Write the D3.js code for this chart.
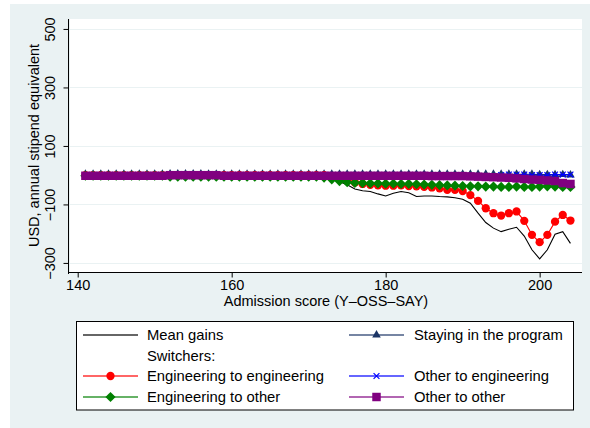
<!DOCTYPE html>
<html>
<head>
<meta charset="utf-8">
<script src="https://cdn.jsdelivr.net/npm/d3@7/dist/d3.min.js"></script>
<style>
    body { margin: 0; background: #fff; }
    text { font-family: "Liberation Sans", Arial, sans-serif; fill: #000; }
</style>
</head>
<body>
<svg id="chart" width="590" height="428"></svg>
<script>
// Data (admission score vs. USD gain)

const scores = [141, 142, 143, 144, 145, 146, 147, 148, 149, 150,
    151, 152, 153, 154, 155, 156, 157, 158, 159, 160,
    161, 162, 163, 164, 165, 166, 167, 168, 169, 170,
    171, 172, 173, 174, 175, 176, 177, 178, 179, 180,
    181, 182, 183, 184, 185, 186, 187, 188, 189, 190,
    191, 192, 193, 194, 195, 196, 197, 198, 199, 200,
    201, 202, 203, 204];

const meanGains = [0, 0, 0, 0, 0, 0, 0, 0, 0, 0,
    0, 0, 0, 0, 0, 0, 0, 0, 0, 0,
    0, 0, 0, 0, 0, 0, 0, 0, 0, 0,
    -2, -5, -12, -22, -33, -47, -53, -56, -64, -71,
    -62, -56, -60, -73, -71, -71, -73, -74, -77, -82,
    -96, -130, -162, -181, -193, -185, -178, -208, -255, -286,
    -255, -202, -193, -233];

const staying = [3, 3, 3, 3, 3, 3, 3, 3, 3, 3,
    3, 4, 4, 4, 4, 4, 3, 3, 3, 3,
    3, 3, 3, 3, 3, 3, 3, 3, 3, 3,
    3, 3, 3, 3, 3, 3, 3, 3, 3, 3,
    3, 3, 3, 3, 3, 3, 3, 3, 3, 3,
    3, 3, 3, 3, 3, 3, 3, 3, 3, 2,
    2, 2, 2, 1];

const engToEng = [0, 0, 0, 0, 0, 0, 0, 0, 0, 0,
    0, 0, 0, 0, 0, 0, 0, 0, 0, 0,
    0, 0, 0, 0, 0, 0, 0, 0, 0, 0,
    0, 0, -5, -10, -18, -25, -30, -33, -35, -36,
    -36, -35, -37, -38, -40, -42, -45, -50, -50, -54,
    -68, -88, -113, -130, -138, -130, -124, -156, -204, -229,
    -204, -159, -136, -155];

const engToOther = [-2, -2, -2, -2, -2, -2, -2, -2, -2, -2,
    -2, -5, -5, -5, -5, -5, -5, -5, -5, -5,
    -5, -5, -5, -5, -5, -5, -5, -5, -5, -5,
    -5, -8, -14, -20, -24, -26, -27, -28, -28, -29,
    -29, -30, -30, -31, -32, -33, -34, -35, -36, -37,
    -38, -38, -39, -39, -40, -40, -39, -40, -40, -39,
    -38, -39, -40, -40];

const otherToEng = [-2, -2, -2, -2, -2, -2, -2, -2, -2, -2,
    -2, -1, -1, -1, -1, -1, -1, -1, -2, -2,
    -2, -2, -2, -2, -2, -2, -2, -2, -2, -2,
    -2, -2, -2, -2, -2, -2, -2, -2, -2, -2,
    -2, -2, -2, -2, -2, -3, -3, -3, -3, -3,
    -4, -4, -5, -5, 0, 2, 2, 2, 0, 0,
    0, 2, 2, 2];

const otherToOther = [-2, -2, -2, -2, -2, -2, -2, -2, -2, -2,
    -2, 0, 0, 0, 0, 0, 0, 0, -2, -2,
    -2, -2, -2, -2, -2, -2, -2, -2, -2, -2,
    -2, -2, -2, -2, -2, -2, -2, -2, -2, -2,
    -2, -2, -2, -2, -2, -3, -3, -3, -3, -3,
    -4, -5, -6, -7, -8, -9, -11, -13, -15, -16,
    -18, -20, -27, -30];

const xTicks = [140, 160, 180, 200];
const yTicks = [-300, -100, 100, 300, 500];

const series = [
    { label: 'Mean gains', values: meanGains, color: '#000000', marker: null },
    { label: 'Staying in the program', values: staying, color: '#1c3566', marker: 'triangle' },
    { label: 'Engineering to engineering', values: engToEng, color: '#ff0000', marker: 'circle' },
    { label: 'Engineering to other', values: engToOther, color: '#008000', marker: 'diamond' },
    { label: 'Other to engineering', values: otherToEng, color: '#0000ff', marker: 'times' },
    { label: 'Other to other', values: otherToOther, color: '#800080', marker: 'square' },
];

// Layout

const width = 590;
const height = 428;
const plot = { left: 70, top: 19, right: 582, bottom: 272 };

const svg = d3.select('#chart');

svg.append('rect')
    .attr('x', 10).attr('y', 4)
    .attr('width', width - 10).attr('height', height - 4)
    .attr('fill', '#eaf2f3');

svg.append('rect')
    .attr('x', plot.left).attr('y', plot.top)
    .attr('width', plot.right - plot.left).attr('height', plot.bottom - plot.top)
    .attr('fill', '#ffffff');

const x = d3.scaleLinear().domain([139, 205.5]).range([plot.left, plot.right]);
const y = d3.scaleLinear().domain([-331, 534]).range([plot.bottom, plot.top]);

// Gridlines

svg.append('g')
    .selectAll('line')
    .data(yTicks)
    .enter()
    .append('line')
    .attr('x1', plot.left).attr('x2', plot.right)
    .attr('y1', d => Math.round(y(d)) + 0.5)
    .attr('y2', d => Math.round(y(d)) + 0.5)
    .attr('stroke', '#eaf2f3')
    .attr('stroke-width', 1);

// Axes

const fmt = d => (d < 0 ? '\u2212' + Math.abs(d) : String(d));

const xAxis = svg.append('g')
    .attr('transform', `translate(0, ${plot.bottom + 0.5})`)
    .call(d3.axisBottom(x).tickValues(xTicks).tickFormat(fmt).tickSizeOuter(0).tickSize(5).tickPadding(2));
xAxis.select('.domain').attr('d', `M${plot.left - 2},0H${plot.right}`);

const yAxis = svg.append('g')
    .attr('transform', `translate(${plot.left - 1.5}, 0)`)
    .call(d3.axisLeft(y).tickValues(yTicks).tickFormat(fmt).tickSizeOuter(0).tickSize(5));
yAxis.select('.domain').attr('d', `M0,${plot.top}V${plot.bottom + 2}`);

svg.selectAll('.domain, .tick line').attr('stroke', '#000').attr('stroke-width', 1);
svg.selectAll('.tick text')
    .attr('font-size', 14.5)
    .attr('font-family', '"Liberation Sans", Arial, sans-serif')
    .attr('fill', '#000');

yAxis.selectAll('.tick text')
    .attr('x', null).attr('dy', null)
    .attr('text-anchor', 'middle')
    .attr('transform', 'translate(-14, 0) rotate(-90)');

svg.append('text')
    .attr('x', (plot.left + plot.right) / 2)
    .attr('y', 306)
    .attr('text-anchor', 'middle')
    .attr('font-size', 14.5)
    .text('Admission score (Y\u2013OSS\u2013SAY)');

svg.append('text')
    .attr('transform', `translate(39, ${(plot.top + plot.bottom) / 2}) rotate(-90)`)
    .attr('text-anchor', 'middle')
    .attr('font-size', 14.5)
    .text('USD, annual stipend equivalent');

// Markers

const symbolFor = {
    circle: d3.symbol().type(d3.symbolCircle).size(54),
    diamond: d3.symbol().type(d3.symbolSquare).size(52),
    triangle: d3.symbol().type(d3.symbolTriangle).size(32),
    square: d3.symbol().type(d3.symbolSquare).size(72),
    times: d3.symbol().type(d3.symbolTimes).size(24),
};

const drawMarkers = (g, s, points) => {
    if (!s.marker) return;
    g.selectAll('path.mark')
        .data(points)
        .enter()
        .append('path')
        .attr('class', 'mark')
        .attr('d', symbolFor[s.marker])
        .attr('transform', p => `translate(${p[0]}, ${p[1]})` + (s.marker === 'diamond' ? ' rotate(45)' : ''))
        .attr('fill', s.marker === 'times' ? 'none' : s.color)
        .attr('stroke', s.marker === 'times' ? s.color : 'none')
        .attr('stroke-width', 1.2);
};

// Lines

const line = d3.line();

series.forEach(s => {
    const points = scores.map((sc, i) => [x(sc), y(s.values[i])]);
    const g = svg.append('g');
    g.append('path')
        .attr('d', line(points))
        .attr('fill', 'none')
        .attr('stroke', s.color)
        .attr('stroke-width', 1.1);
    drawMarkers(g, s, points);
});

// Legend

const legend = svg.append('g');
legend.append('rect')
    .attr('x', 76.5).attr('y', 321.5)
    .attr('width', 497).attr('height', 88.5)
    .attr('fill', '#fff')
    .attr('stroke', '#000')
    .attr('stroke-width', 1);

const rows = [335, 355.5, 376, 397];
const cols = [{ x1: 83, x2: 138, tx: 147 }, { x1: 349, x2: 404, tx: 414 }];
const legendSlots = [
    { s: series[0], row: 0, col: 0 },
    { s: series[1], row: 0, col: 1 },
    { s: null, text: 'Switchers:', row: 1, col: 0 },
    { s: series[2], row: 2, col: 0 },
    { s: series[4], row: 2, col: 1 },
    { s: series[3], row: 3, col: 0 },
    { s: series[5], row: 3, col: 1 },
];

legendSlots.forEach(item => {
    const c = cols[item.col];
    const cy = rows[item.row];
    const g = legend.append('g');
    if (item.s) {
        g.append('line')
            .attr('x1', c.x1).attr('x2', c.x2)
            .attr('y1', cy).attr('y2', cy)
            .attr('stroke', item.s.color)
            .attr('stroke-opacity', 0.8)
            .attr('stroke-width', 1.5);
        drawMarkers(g, item.s, [[(c.x1 + c.x2) / 2, cy]]);
    }
    g.append('text')
        .attr('x', c.tx)
        .attr('y', cy + 5)
        .attr('font-size', 14.8)
        .text(item.s ? item.s.label : item.text);
});
</script>
</body>
</html>
